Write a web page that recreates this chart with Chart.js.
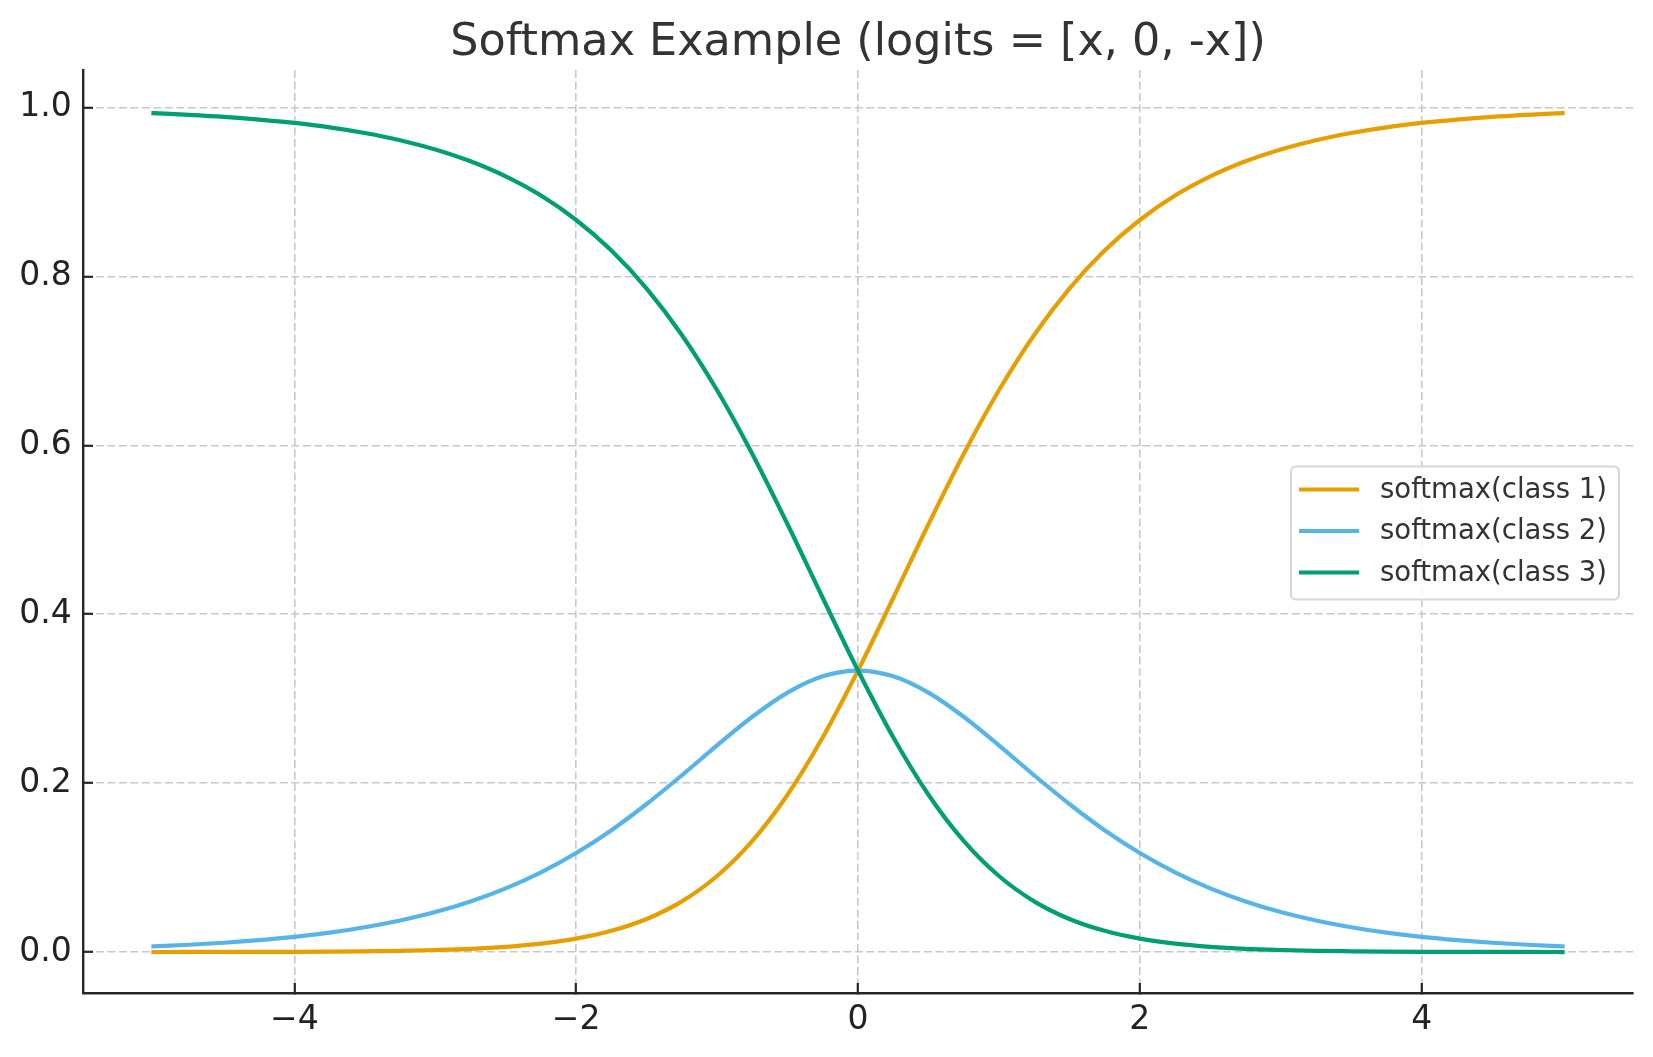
<!DOCTYPE html>
<html>
<head>
<meta charset="utf-8">
<title>Softmax Example</title>
<script src="https://cdn.jsdelivr.net/npm/chart.js@4.4.1/dist/chart.umd.min.js"></script>
<style>
    html, body { margin: 0; padding: 0; background: #ffffff; }
    #wrap { width: 1653px; height: 1057px; }
</style>
</head>
<body>
<div id="wrap"><canvas id="softmaxChart" width="1653" height="1057"></canvas></div>
<script>
// ============================ data ==============================
const chartTitle = 'Softmax Example (logits = [x, 0, -x])';
const seriesLabels = ['softmax(class 1)', 'softmax(class 2)', 'softmax(class 3)'];
const seriesColors = ['#E69F00', '#56B4E9', '#009E73'];

const xValues = [
    -5, -4.75, -4.5, -4.25, -4, -3.75, -3.5, -3.25, -3, -2.75, -2.5, -2.25, -2, -1.75, -1.5, -1.25, -1, -0.75, -0.5, -0.25,
    0, 0.25, 0.5, 0.75, 1, 1.25, 1.5, 1.75, 2, 2.25, 2.5, 2.75, 3, 3.25, 3.5, 3.75, 4, 4.25, 4.5, 4.75, 5
];
const class1Values = [
    0.0000, 0.0001, 0.0001, 0.0002, 0.0003, 0.0005, 0.0009, 0.0014, 0.0024, 0.0038, 0.0062, 0.0100, 0.0159, 0.0251, 0.0391, 0.0600, 0.0900, 0.1316, 0.1863, 0.2543,
    0.3333, 0.4192, 0.5065, 0.5898, 0.6652, 0.7307, 0.7856, 0.8306, 0.8668, 0.8957, 0.9184, 0.9363, 0.9503, 0.9613, 0.9698, 0.9765, 0.9817, 0.9857, 0.9889, 0.9913, 0.9933
];
const class2Values = [
    0.0067, 0.0086, 0.0110, 0.0141, 0.0180, 0.0230, 0.0293, 0.0373, 0.0473, 0.0599, 0.0754, 0.0944, 0.1173, 0.1443, 0.1753, 0.2093, 0.2447, 0.2786, 0.3072, 0.3265,
    0.3333, 0.3265, 0.3072, 0.2786, 0.2447, 0.2093, 0.1753, 0.1443, 0.1173, 0.0944, 0.0754, 0.0599, 0.0473, 0.0373, 0.0293, 0.0230, 0.0180, 0.0141, 0.0110, 0.0086, 0.0067
];
const class3Values = [
    0.9933, 0.9913, 0.9889, 0.9857, 0.9817, 0.9765, 0.9698, 0.9613, 0.9503, 0.9363, 0.9184, 0.8957, 0.8668, 0.8306, 0.7856, 0.7307, 0.6652, 0.5898, 0.5065, 0.4192,
    0.3333, 0.2543, 0.1863, 0.1316, 0.0900, 0.0600, 0.0391, 0.0251, 0.0159, 0.0100, 0.0062, 0.0038, 0.0024, 0.0014, 0.0009, 0.0005, 0.0003, 0.0002, 0.0001, 0.0001, 0.0000
];

const xTickValues = [-4, -2, 0, 2, 4];
const yTickValues = [0, 0.2, 0.4, 0.6, 0.8, 1.0];
const xRange = [-5.5, 5.5];
const yRange = [-0.0485, 1.0444];

// ============================ end data ==============================

const FONT = '"DejaVu Sans", "Noto Sans", sans-serif';

function toPoints(values) {
    return values.map((v, i) => ({x: xValues[i], y: v}));
}

// legend drawn inside the plot, center right, like matplotlib "best"
const legendBoxPlugin = {
    id: 'legendBox',
    afterDraw(chart) {
        const {ctx, chartArea} = chart;
        const datasets = chart.data.datasets;
        const rowGap = 41.5;
        const handleLen = 60;

        ctx.save();
        ctx.font = '27.5px ' + FONT;
        const textW = Math.max(...datasets.map(d => ctx.measureText(d.label).width));
        const boxW = 8 + handleLen + 21 + textW + 12;
        const boxH = 133;
        const right = chartArea.right - 14;
        const left = right - boxW;
        const top = (chartArea.top + chartArea.bottom) / 2 + 1.5 - boxH / 2;

        ctx.beginPath();
        ctx.roundRect(left, top, boxW, boxH, 5);
        ctx.fillStyle = 'rgba(255, 255, 255, 0.8)';
        ctx.fill();
        ctx.lineWidth = 2;
        ctx.strokeStyle = '#d6d6d6';
        ctx.stroke();

        datasets.forEach((ds, i) => {
            const y = top + 23 + i * rowGap;
            ctx.beginPath();
            ctx.moveTo(left + 8, y);
            ctx.lineTo(left + 8 + handleLen, y);
            ctx.lineWidth = 4.2;
            ctx.lineCap = 'butt';
            ctx.strokeStyle = ds.borderColor;
            ctx.stroke();

            ctx.fillStyle = '#333333';
            ctx.textAlign = 'left';
            ctx.textBaseline = 'middle';
            ctx.fillText(ds.label, left + 8 + handleLen + 21, y + 1);
        });
        ctx.restore();
    }
};

function makeDataset(i, values, order) {
    return {
        label: seriesLabels[i],
        data: toPoints(values),
        borderColor: seriesColors[i],
        backgroundColor: seriesColors[i],
        borderWidth: 4.2,
        borderCapStyle: 'square',
        pointRadius: 0,
        cubicInterpolationMode: 'monotone',
        fill: false,
        order: order
    };
}

const gridStyle = {
    color: '#c8c8c8',
    lineWidth: 1.6,
    drawTicks: true,
    tickLength: -10,
    tickColor: '#262626',
    tickWidth: 2.2,
    tickBorderDash: []
};

const ctx = document.getElementById('softmaxChart').getContext('2d');
new Chart(ctx, {
    type: 'line',
    data: {
        datasets: [
            makeDataset(0, class1Values, 2),
            makeDataset(1, class2Values, 1),
            makeDataset(2, class3Values, 0)
        ]
    },
    options: {
        responsive: false,
        animation: false,
        devicePixelRatio: 1,
        layout: {padding: {left: 0, right: 20, top: 0, bottom: 0}},
        plugins: {
            legend: {display: false},
            tooltip: {enabled: false},
            title: {
                display: true,
                text: chartTitle,
                fullSize: false,
                color: '#333333',
                font: {family: FONT, size: 44.5, weight: 'normal', lineHeight: 1.0},
                padding: {top: 21.5, bottom: 4}
            }
        },
        scales: {
            x: {
                type: 'linear',
                min: xRange[0],
                max: xRange[1],
                afterBuildTicks: scale => {
                    scale.ticks = xTickValues.map(v => ({value: v}));
                },
                afterFit: scale => {
                    scale.height = 64;
                },
                grid: gridStyle,
                border: {display: true, color: '#262626', width: 2.4, dash: [8, 3.5]},
                ticks: {
                    color: '#222222',
                    padding: 17.5,
                    maxRotation: 0,
                    font: {family: FONT, size: 33},
                    callback: v => (v < 0 ? '\u2212' + Math.abs(v) : String(v))
                }
            },
            y: {
                type: 'linear',
                min: yRange[0],
                max: yRange[1],
                afterBuildTicks: scale => {
                    scale.ticks = yTickValues.map(v => ({value: v}));
                },
                afterFit: scale => {
                    scale.width = 83;
                },
                grid: gridStyle,
                border: {display: true, color: '#262626', width: 2.4, dash: [8, 3.5]},
                ticks: {
                    color: '#222222',
                    padding: 21.3,
                    font: {family: FONT, size: 33},
                    callback: v => v.toFixed(1)
                }
            }
        }
    },
    plugins: [legendBoxPlugin]
});
</script>
</body>
</html>
